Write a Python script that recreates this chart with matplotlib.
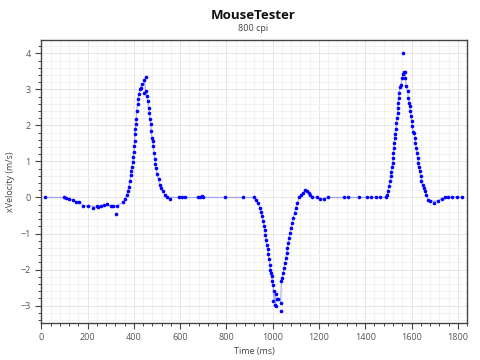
import numpy as np
import pandas as pd
import matplotlib
matplotlib.use("Agg")
import matplotlib.pyplot as plt
from matplotlib.ticker import MultipleLocator

# time (ms) and x velocity (m/s)
time_ms = [16, 99, 105, 121, 136, 149, 163, 182, 203, 222, 239, 245, 259, 271,
           285, 300, 311, 321, 328, 354, 363, 369, 373, 379, 382, 386, 389, 392,
           395, 397, 399, 402, 403, 405, 406, 409, 410, 412, 416, 418, 421, 426,
           429, 434, 444, 451, 446, 451, 455, 461, 464, 467, 470, 473, 475, 478,
           481, 484, 487, 490, 493, 496, 501, 507, 511, 517, 524, 534, 544, 556,
           596, 608, 621, 678, 686, 693, 700, 794, 873, 919, 928, 937, 945, 949,
           955, 959, 963, 966, 969, 971, 974, 978, 981, 984, 988, 989, 992, 995,
           998, 1001, 1003, 1007, 1010, 1013, 1014, 1020, 1025, 1034, 1038, 1034,
           1041, 1045, 1050, 1053, 1057, 1060, 1064, 1067, 1070, 1074, 1079, 1085,
           1089, 1095, 1099, 1107, 1114, 1121, 1131, 1140, 1150, 1157, 1161, 1172,
           1193, 1205, 1220, 1241, 1310, 1325, 1372, 1406, 1424, 1446, 1466, 1488,
           1495, 1498, 1503, 1507, 1510, 1513, 1516, 1518, 1520, 1522, 1524, 1525,
           1528, 1529, 1532, 1535, 1536, 1540, 1541, 1542, 1544, 1547, 1550, 1554,
           1560, 1564, 1564, 1568, 1574, 1571, 1577, 1583, 1586, 1589, 1592, 1594,
           1597, 1600, 1603, 1607, 1611, 1614, 1617, 1620, 1623, 1626, 1629, 1632,
           1635, 1639, 1643, 1648, 1652, 1657, 1663, 1672, 1681, 1697, 1713, 1730,
           1744, 1758, 1775, 1796, 1819]
x_velocity = [0.0, 0.0, -0.01, -0.04, -0.07, -0.13, -0.12, -0.23, -0.24, -0.29,
              -0.24, -0.27, -0.23, -0.22, -0.19, -0.24, -0.23, -0.46, -0.23, -0.13,
              -0.04, 0.06, 0.17, 0.3, 0.45, 0.61, 0.73, 0.85, 0.99, 1.13, 1.26,
              1.43, 1.56, 1.75, 1.89, 2.03, 2.17, 2.4, 2.58, 2.72, 2.86, 3.0, 3.03,
              3.16, 3.26, 3.35, 2.91, 2.95, 2.81, 2.68, 2.49, 2.35, 2.17, 2.03,
              1.84, 1.66, 1.56, 1.43, 1.24, 1.06, 0.92, 0.82, 0.64, 0.5, 0.36,
              0.27, 0.18, 0.08, 0.02, -0.04, 0.0, 0.0, 0.0, 0.0, 0.02, 0.04, 0.0,
              0.0, 0.0, 0.0, -0.06, -0.15, -0.29, -0.4, -0.52, -0.66, -0.8, -0.89,
              -1.03, -1.17, -1.31, -1.44, -1.58, -1.72, -1.86, -2.0, -2.09, -2.19,
              -2.32, -2.42, -2.88, -2.6, -2.97, -2.69, -3.02, -2.83, -2.81, -3.14,
              -2.93, -2.32, -2.23, -2.09, -1.95, -1.81, -1.68, -1.54, -1.4, -1.26,
              -1.12, -0.98, -0.84, -0.7, -0.56, -0.43, -0.29, -0.15, 0.0, 0.06,
              0.13, 0.22, 0.18, 0.13, 0.08, 0.02, 0.0, -0.03, -0.04, 0.0, 0.0, 0.0,
              0.0, 0.0, 0.0, 0.0, 0.0, 0.01, 0.08, 0.18, 0.31, 0.45, 0.59, 0.71,
              0.84, 0.96, 1.1, 1.24, 1.38, 1.52, 1.66, 1.77, 1.89, 2.07, 2.21,
              2.35, 2.49, 2.63, 2.77, 2.91, 3.06, 3.12, 3.32, 3.42, 4.02, 3.49,
              3.47, 3.32, 3.09, 2.95, 2.77, 2.63, 2.54, 2.4, 2.26, 2.12, 1.98,
              1.82, 1.8, 1.66, 1.52, 1.38, 1.24, 1.1, 0.96, 0.84, 0.73, 0.59,
              0.45, 0.36, 0.27, 0.18, 0.08, -0.06, -0.1, -0.16, -0.1, -0.03, 0.01,
              0.01, 0.01, 0.01, 0.01]

df = pd.DataFrame({'t': time_ms, 'v': x_velocity}).sort_values('t', kind='stable')
# the faint trace in the original is a smoothed curve, outliers sit off it
trace = df['v'].rolling(3, center=True, min_periods=1).median()

plt.rcParams['font.family'] = ['Open Sans', 'DejaVu Sans']

fig = plt.figure(figsize=(4.8, 3.6), dpi=100)
ax = fig.add_axes([0.086, 0.103, 0.887, 0.786])

ax.plot(df['t'], trace, color='#0000ff', alpha=0.3, linewidth=0.9, zorder=2)
ax.plot(df['t'], df['v'], linestyle='none', marker='o', markersize=2.6,
        color='#0000ff', markeredgewidth=0, zorder=3)

ax.set_xlim(0, 1840)
ax.set_ylim(-3.48, 4.37)
ax.xaxis.set_major_locator(MultipleLocator(200))
ax.xaxis.set_minor_locator(MultipleLocator(40))
ax.yaxis.set_major_locator(MultipleLocator(1))
ax.yaxis.set_minor_locator(MultipleLocator(0.2))

ax.grid(which='major', color='#e6e6e6', linewidth=0.7, zorder=0)
ax.grid(which='minor', color='#f0f0f0', linewidth=0.6, zorder=0)
ax.set_axisbelow(True)

for s in ax.spines.values():
    s.set_color('#444444')
    s.set_linewidth(1.0)

ax.tick_params(which='major', direction='out', length=4, width=0.8,
               color='#444444', labelsize=6.5, labelcolor='#555555')
ax.tick_params(which='minor', direction='out', length=2, width=0.7, color='#444444')

ax.set_xlabel('Time (ms)', fontsize=6.5, color='#444444', labelpad=3)
ax.set_ylabel('xVelocity (m/s)', fontsize=6.5, color='#444444', labelpad=4)

fig.text(0.528, 0.958, 'MouseTester', ha='center', va='center',
         fontsize=9.5, fontweight='bold', color='#111111')
fig.text(0.528, 0.92, '800 cpi', ha='center', va='center',
         fontsize=6.5, color='#444444')

fig.savefig('out.png', dpi=100)
